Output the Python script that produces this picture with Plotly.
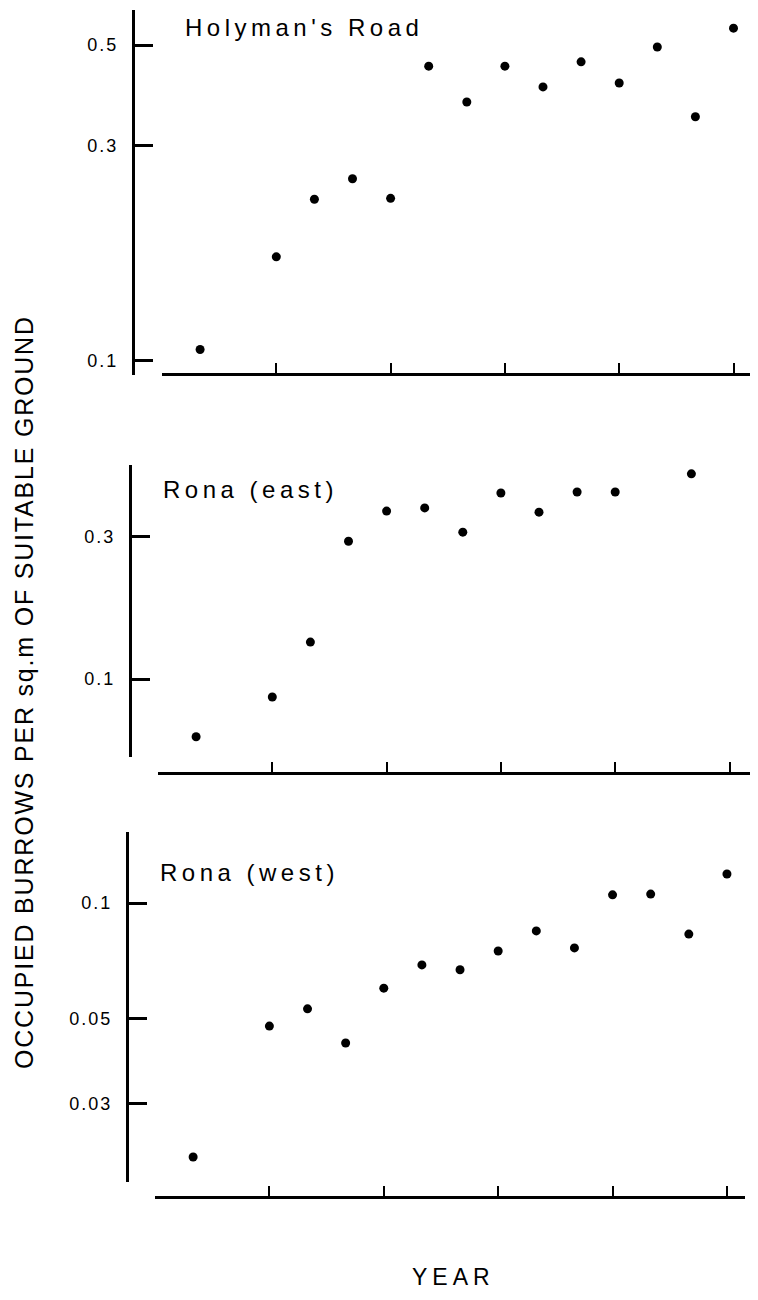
import plotly.graph_objects as go

# ---- data (year offsets from first tick; log-scale densities) ----
years = [1, 3, 4, 5, 6, 7, 8, 9, 10, 11, 12, 13, 14, 15]
holyman = [0.106, 0.170, 0.228, 0.253, 0.229, 0.449, 0.374, 0.449, 0.404, 0.459, 0.412, 0.495, 0.347, 0.545]
rona_east = [0.064, 0.087, 0.133, 0.290, 0.366, 0.375, 0.311, 0.421, 0.363, 0.424, 0.424, 0.552, 0.488, 0.644]
rona_west = [0.0218, 0.0478, 0.053, 0.0432, 0.060, 0.069, 0.067, 0.075, 0.0846, 0.0764, 0.105, 0.1055, 0.083, 0.119]

panel_titles = ["Holyman's Road", "Rona (east)", "Rona (west)"]
x_ticks = [0, 3, 6, 9, 12, 15]
y_ticks = [[0.1, 0.3, 0.5], [0.1, 0.3], [0.03, 0.05, 0.1]]
y_ticklabels = [["0.1", "0.3", "0.5"], ["0.1", "0.3"], ["0.03", "0.05", "0.1"]]
y_title = "OCCUPIED BURROWS PER sq.m OF SUITABLE GROUND"
x_title = "YEAR"

# page has an 8px body margin; figure fills the rest of the 758x1300 window
OFF = 8
W, H = 742, 1284
FONT = "Liberation Sans, Arial, Helvetica, sans-serif"


def px(x):
    return (x - OFF) / W


def py(y):
    return 1 - (y - OFF) / H


def spaced(text, sp):
    return '<span style="letter-spacing:%spx">%s</span>' % (sp, text)


# layout geometry in page pixels
panels = [
    dict(data=holyman, x0=162, x1=750, xmax=(750 - 162) / 38.1, ytop=10, ybot=375,
         yr=[-1.031, -0.2235], yaxis_x=133, xaxis_y=374, title_xy=(183, 27)),
    dict(data=rona_east, x0=158, x1=750, xmax=(750 - 158) / 38.1, ytop=465, ybot=757,
         yr=[-1.2617, -0.2819], yaxis_x=130, xaxis_y=773, title_xy=(161, 489)),
    dict(data=rona_west, x0=155, x1=745, xmax=(745 - 155) / 38.13, ytop=832, ybot=1182,
         yr=[-1.7266, -0.8151], yaxis_x=127, xaxis_y=1197, title_xy=(158, 872)),
]

fig = go.Figure()
layout = dict(
    width=W, height=H,
    margin=dict(l=0, r=0, t=0, b=0),
    paper_bgcolor="white", plot_bgcolor="white",
    showlegend=False,
    font=dict(family=FONT, color="black"),
)
annotations = []
for i, p in enumerate(panels):
    n = "" if i == 0 else str(i + 1)
    fig.add_trace(go.Scatter(
        x=years, y=p["data"], mode="markers",
        marker=dict(color="black", size=9),
        cliponaxis=False,
        xaxis="x" + n, yaxis="y" + n,
    ))
    layout["xaxis" + n] = dict(
        domain=[px(p["x0"]), px(p["x1"])],
        range=[0, p["xmax"]],
        anchor="free", position=py(p["xaxis_y"]),
        showgrid=False, zeroline=False,
        showline=True, linecolor="black", linewidth=2.5,
        ticks="inside", ticklen=10, tickwidth=2, tickcolor="black",
        tickvals=x_ticks, showticklabels=False,
    )
    layout["yaxis" + n] = dict(
        domain=[py(p["ybot"]), py(p["ytop"])],
        type="log", range=p["yr"],
        anchor="free", position=px(p["yaxis_x"]),
        showgrid=False, zeroline=False,
        showline=True, linecolor="black", linewidth=3,
        ticks="inside", ticklen=18, tickwidth=2.5, tickcolor="black",
        tickvals=y_ticks[i], ticktext=[spaced(t, 2) for t in y_ticklabels[i]],
        tickfont=dict(size=18, family=FONT, color="black"),
        ticklabelstandoff=10,
    )
    tx, ty = p["title_xy"]
    annotations.append(dict(
        x=px(tx), y=py(ty), xref="paper", yref="paper",
        text=spaced(panel_titles[i], 4.5), showarrow=False,
        xanchor="left", yanchor="middle",
        font=dict(size=24, family=FONT, color="black"),
    ))

annotations.append(dict(
    x=px(24), y=py(692), xref="paper", yref="paper",
    text=spaced(y_title, 1.8), showarrow=False, textangle=-90,
    xanchor="center", yanchor="middle",
    font=dict(size=25, family=FONT, color="black"),
))
annotations.append(dict(
    x=px(453), y=0, xref="paper", yref="paper",
    text=spaced(x_title, 5), showarrow=False,
    xanchor="center", yanchor="bottom",
    font=dict(size=23, family=FONT, color="black"),
))
layout["annotations"] = annotations
fig.update_layout(**layout)
fig.write_html("out.html")
